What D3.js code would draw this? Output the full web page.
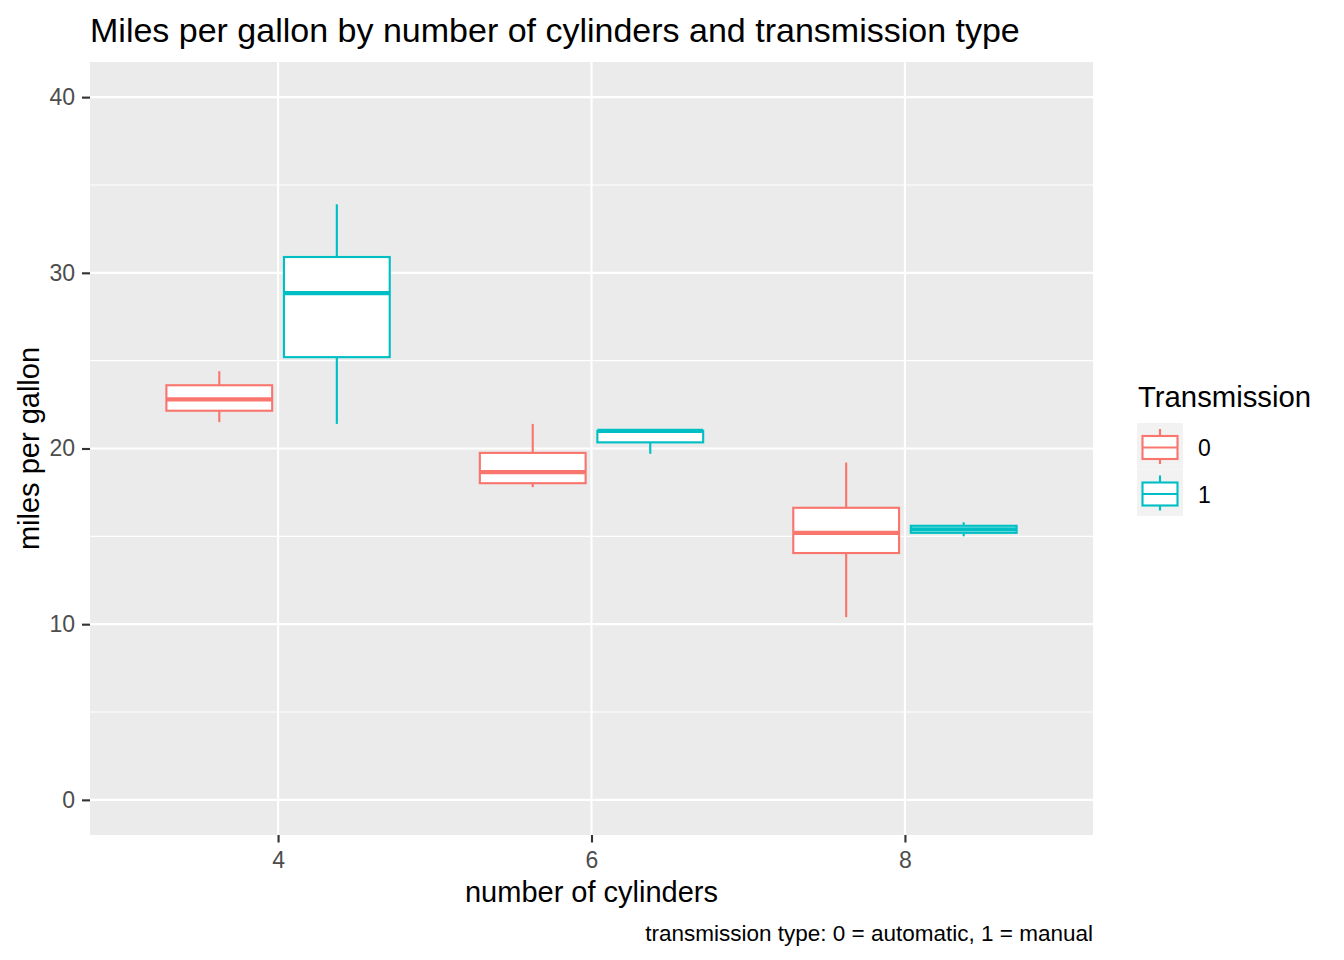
<!DOCTYPE html>
<html>
<head>
<meta charset="utf-8">
<script src="https://cdn.jsdelivr.net/npm/d3@7/dist/d3.min.js"></script>
<style>
  body { margin: 0; background: #fff; }
  svg { font-family: "Liberation Sans", Arial, sans-serif; }
</style>
</head>
<body>
<div id="chart"></div>
<script>
// data: five-number summaries of mpg per (cyl, am) group
const cylinders = ["4", "6", "8"];
const transmissions = ["0", "1"];
const groupCyl = ["4", "4", "6", "6", "8", "8"];
const groupAm = ["0", "1", "0", "1", "0", "1"];
const lowerWhisker = [21.5, 21.4, 17.8, 19.7, 10.4, 15.0];
const lowerHinge = [22.15, 25.2, 18.025, 20.35, 14.05, 15.2];
const medians = [22.8, 28.85, 18.65, 21.0, 15.2, 15.4];
const upperHinge = [23.6, 30.9, 19.75, 21.0, 16.625, 15.6];
const upperWhisker = [24.4, 33.9, 21.4, 21.0, 19.2, 15.8];
const yTicks = [0, 10, 20, 30, 40];
const yMinorTicks = [5, 15, 25, 35];

const groups = groupCyl.map((c, i) => ({
    cyl: c, am: groupAm[i],
    ymin: lowerWhisker[i], lower: lowerHinge[i], middle: medians[i],
    upper: upperHinge[i], ymax: upperWhisker[i]
}));

const width = 1344, height = 960;
const panel = { left: 90, right: 1093, top: 62, bottom: 835 };
const colors = { "0": "#F8766D", "1": "#00BFC4" };

const svg = d3.select("#chart").append("svg")
    .attr("width", width)
    .attr("height", height);

const x = d3.scalePoint()
    .domain(cylinders)
    .range([panel.left, panel.right])
    .padding(0.6);

const dodge = 0.75 * x.step();
const xSub = d3.scaleBand()
    .domain(transmissions)
    .range([-dodge / 2, dodge / 2])
    .paddingInner(0.1)
    .paddingOuter(0.05);

const y = d3.scaleLinear()
    .domain([-2, 42])
    .range([panel.bottom, panel.top]);

// panel background
svg.append("rect")
    .attr("x", panel.left)
    .attr("y", panel.top)
    .attr("width", panel.right - panel.left)
    .attr("height", panel.bottom - panel.top)
    .attr("fill", "#EBEBEB");

// minor grid
svg.append("g").selectAll("line")
    .data(yMinorTicks)
    .enter().append("line")
    .attr("x1", panel.left).attr("x2", panel.right)
    .attr("y1", d => y(d)).attr("y2", d => y(d))
    .attr("stroke", "#fff").attr("stroke-width", 1.07);

// major grid
svg.append("g").selectAll("line")
    .data(yTicks)
    .enter().append("line")
    .attr("x1", panel.left).attr("x2", panel.right)
    .attr("y1", d => y(d)).attr("y2", d => y(d))
    .attr("stroke", "#fff").attr("stroke-width", 2.13);

svg.append("g").selectAll("line")
    .data(cylinders)
    .enter().append("line")
    .attr("x1", d => x(d)).attr("x2", d => x(d))
    .attr("y1", panel.top).attr("y2", panel.bottom)
    .attr("stroke", "#fff").attr("stroke-width", 2.13);

// boxes
const box = svg.append("g").selectAll("g")
    .data(groups)
    .enter().append("g");

const cx = d => x(d.cyl) + xSub(d.am) + xSub.bandwidth() / 2;
const bx = d => x(d.cyl) + xSub(d.am);

box.append("line")
    .attr("x1", cx).attr("x2", cx)
    .attr("y1", d => y(d.upper)).attr("y2", d => y(d.ymax))
    .attr("stroke", d => colors[d.am]).attr("stroke-width", 2.13);

box.append("line")
    .attr("x1", cx).attr("x2", cx)
    .attr("y1", d => y(d.lower)).attr("y2", d => y(d.ymin))
    .attr("stroke", d => colors[d.am]).attr("stroke-width", 2.13);

box.append("rect")
    .attr("x", bx)
    .attr("y", d => y(d.upper))
    .attr("width", xSub.bandwidth())
    .attr("height", d => y(d.lower) - y(d.upper))
    .attr("fill", "#fff")
    .attr("stroke", d => colors[d.am]).attr("stroke-width", 2.13);

box.append("line")
    .attr("x1", bx).attr("x2", d => bx(d) + xSub.bandwidth())
    .attr("y1", d => y(d.middle)).attr("y2", d => y(d.middle))
    .attr("stroke", d => colors[d.am]).attr("stroke-width", 4.26);

// axes
const yAxis = svg.append("g")
    .attr("transform", `translate(${panel.left},0)`)
    .call(d3.axisLeft(y).tickValues(yTicks).tickSize(8).tickPadding(7));
yAxis.select(".domain").remove();
yAxis.selectAll(".tick line").attr("stroke", "#333").attr("stroke-width", 2.13);
yAxis.selectAll(".tick text").attr("fill", "#4D4D4D").style("font-size", "23px");

const xAxis = svg.append("g")
    .attr("transform", `translate(0,${panel.bottom})`)
    .call(d3.axisBottom(x).tickSize(7.5).tickPadding(9));
xAxis.select(".domain").remove();
xAxis.selectAll(".tick line").attr("stroke", "#333").attr("stroke-width", 2.13);
xAxis.selectAll(".tick text").attr("fill", "#4D4D4D").style("font-size", "23px");

// titles
svg.append("text")
    .attr("x", panel.left)
    .attr("y", 41.5)
    .attr("font-size", "34px")
    .text("Miles per gallon by number of cylinders and transmission type");

svg.append("text")
    .attr("x", (panel.left + panel.right) / 2)
    .attr("y", 902)
    .attr("text-anchor", "middle")
    .attr("font-size", "29px")
    .text("number of cylinders");

svg.append("text")
    .attr("transform", `translate(39,${(panel.top + panel.bottom) / 2}) rotate(-90)`)
    .attr("text-anchor", "middle")
    .attr("font-size", "29px")
    .text("miles per gallon");

svg.append("text")
    .attr("x", panel.right)
    .attr("y", 941)
    .attr("text-anchor", "end")
    .attr("font-size", "22.5px")
    .text("transmission type: 0 = automatic, 1 = manual");

// legend
const legend = svg.append("g").attr("transform", "translate(1137,423)");
legend.append("text")
    .attr("x", 1)
    .attr("y", -16)
    .attr("font-size", "29.3px")
    .text("Transmission");

const key = legend.selectAll("g")
    .data(transmissions)
    .enter().append("g")
    .attr("transform", (d, i) => `translate(0,${i * 46.5})`);

key.append("rect")
    .attr("width", 46).attr("height", 46.5)
    .attr("fill", "#F2F2F2");
key.append("line")
    .attr("x1", 23).attr("x2", 23).attr("y1", 6).attr("y2", 41)
    .attr("stroke", d => colors[d]).attr("stroke-width", 2.13);
key.append("rect")
    .attr("x", 5.5).attr("y", 13).attr("width", 35).attr("height", 23)
    .attr("fill", "#fff")
    .attr("stroke", d => colors[d]).attr("stroke-width", 2.13);
key.append("line")
    .attr("x1", 5.5).attr("x2", 40.5).attr("y1", 24.5).attr("y2", 24.5)
    .attr("stroke", d => colors[d]).attr("stroke-width", 2.13);
key.append("text")
    .attr("x", 61)
    .attr("y", 33)
    .attr("font-size", "23px")
    .text(d => d);
</script>
</body>
</html>
